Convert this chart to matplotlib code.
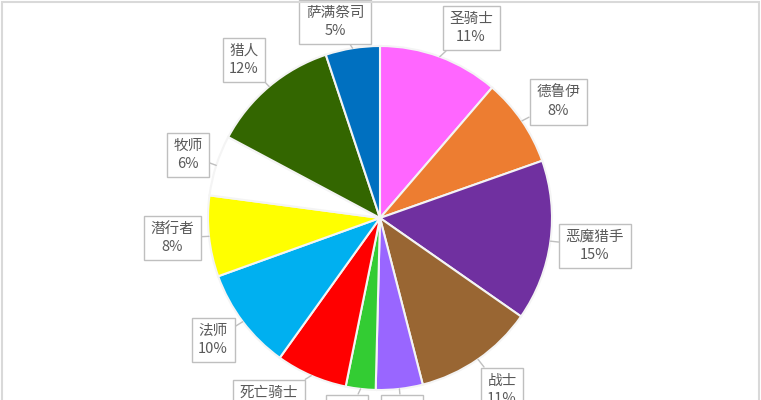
import numpy as np
import matplotlib.pyplot as plt

plt.rcParams['font.family'] = ['Noto Sans CJK SC', 'DejaVu Sans']

# classes, clockwise from 12 o'clock
classes = ['圣骑士', '德鲁伊', '恶魔猎手', '战士', '术士', '武僧',
           '死亡骑士', '法师', '潜行者', '牧师', '猎人', '萨满祭司']
shares = [11.3, 8.3, 15.1, 11.3, 4.4, 2.8, 6.7, 9.6, 7.6, 5.7, 12.1, 5.1]
colors = ['#FF66FF', '#ED7D31', '#7030A0', '#996633', '#9966FF', '#33CC33',
          '#FF0000', '#00B0F0', '#FFFF00', '#FFFFFF', '#336600', '#0070C0']

# label box centres in pixels (x from left, y from top)
label_pos = [(471, 28), (558, 102), (595, 246), (502, 390), (402, 417), (347, 417),
             (269, 402), (213, 340), (172, 238), (188, 155), (244, 60), (335, 22)]

W, H = 761, 400
fig = plt.figure(figsize=(W / 100, H / 100), dpi=100)
ax = fig.add_axes([0, 0, 1, 1])

cx, cy, r = 380, H - 218, 172
wedges, _ = ax.pie(shares, colors=colors, startangle=90, counterclock=False,
                   center=(cx, cy), radius=r,
                   wedgeprops=dict(edgecolor='#F4F4F4', linewidth=1.5))
ax.set_xlim(0, W)
ax.set_ylim(0, H)
ax.set_aspect('equal')
ax.axis('off')

for w, name, v, (lx, ly) in zip(wedges, classes, shares, label_pos):
    ang = np.deg2rad((w.theta1 + w.theta2) / 2)
    tip = (cx + r * np.cos(ang), cy + r * np.sin(ang))
    ax.annotate(f'{name}\n{round(v)}%', xy=tip, xytext=(lx, H - ly),
                ha='center', va='center', fontsize=10.5, color='#595959',
                linespacing=1.35, annotation_clip=False,
                bbox=dict(boxstyle='square,pad=0.45', fc='white', ec='#BFBFBF', lw=1),
                arrowprops=dict(arrowstyle='-', color='#BFBFBF', lw=1,
                                shrinkA=0, shrinkB=0))

# chart area frame
fig.add_artist(plt.Rectangle((0.003, -0.1), 0.994, 1.095, transform=fig.transFigure,
                             fill=False, ec='#D9D9D9', lw=1.5))

fig.savefig('out.png', dpi=100)
